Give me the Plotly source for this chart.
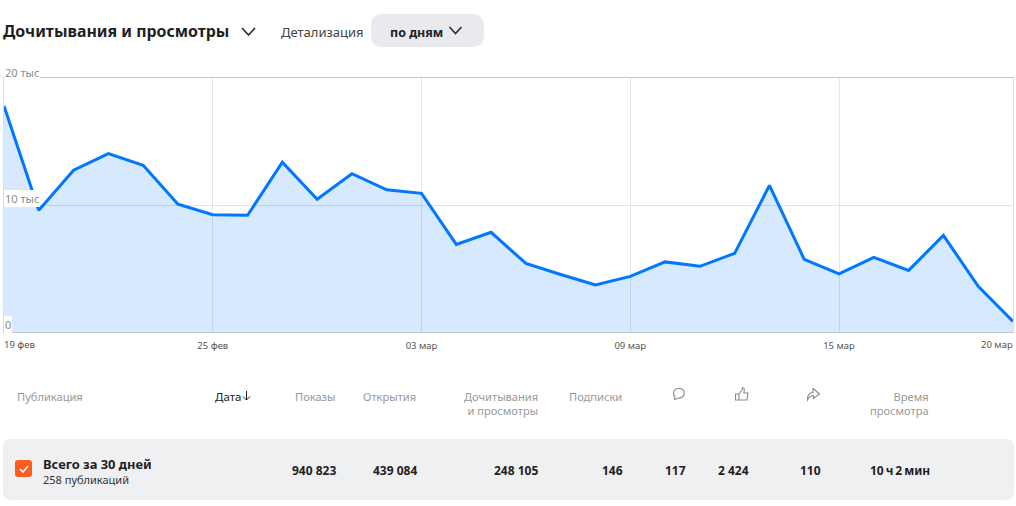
import plotly.graph_objects as go

days = ["19 фев","20 фев","21 фев","22 фев","23 фев","24 фев","25 фев","26 фев","27 фев","28 фев",
        "01 мар","02 мар","03 мар","04 мар","05 мар","06 мар","07 мар","08 мар","09 мар","10 мар",
        "11 мар","12 мар","13 мар","14 мар","15 мар","16 мар","17 мар","18 мар","19 мар","20 мар"]
values = [17800,9580,12740,14040,13130,10060,9230,9190,13370,10450,
          12460,11200,10920,6900,7850,5400,4530,3700,4380,5520,
          5170,6190,11550,5720,4570,5880,4850,7610,3590,830]
mid_ticks = ["25 фев","03 мар","09 мар","15 мар"]
first_tick, last_tick = "19 фев", "20 мар"
y_ticks = [0,10000,20000]
y_labels = ["0","10 тыс","20 тыс"]
title = "Дочитывания и просмотры"
headers = ["Показы","Открытия","Дочитывания<br>и просмотры","Подписки","Время<br>просмотра"]
totals = ["940 823","439 084","248 105","146","117","2 424","110","10\u2009ч\u20092\u2009мин"]

W, H = 1016, 506
L, R, T, B = 4, 1013, 78, 332
FONT = "Noto Sans, Open Sans, sans-serif"
def px(x): return (x-L)/(R-L)
def py(y): return (B-y)/(B-T)

def path(d):
    # d: list of (command, pixel coordinates) -> SVG path in paper fractions
    out = []
    for cmd, *c in d:
        pts = [f"{px(c[i]):.5f},{py(c[i+1]):.5f}" for i in range(0,len(c),2)]
        out.append(cmd+" ".join(pts))
    return " ".join(out)

def rrect(x0,y0,x1,y1,r):
    return path([("M",x0+r,y0),("L",x1-r,y0),("Q",x1,y0,x1,y0+r),("L",x1,y1-r),("Q",x1,y1,x1-r,y1),
                 ("L",x0+r,y1),("Q",x0,y1,x0,y1-r),("L",x0,y0+r),("Q",x0,y0,x0+r,y0),("Z",)])

shapes = []
def fill(p,color):
    shapes.append(dict(type="path",xref="paper",yref="paper",path=p,fillcolor=color,line=dict(width=0),layer="above"))
def stroke(d,color,w=1.1):
    shapes.append(dict(type="path",xref="paper",yref="paper",path=path(d),line=dict(color=color,width=w),layer="above"))

fill(rrect(371,14,484,47,12),"#e9eaee")
fill(rrect(3,439,1014,500,8),"#eff0f2")
fill(rrect(15,460,32,477,3),"#ff5a1f")
stroke([("M",20,469),("L",23,472),("L",28,466)],"#ffffff",1.6)
stroke([("M",242,28),("L",248.5,35),("L",255,28)],"#333333",1.8)
stroke([("M",449.5,27),("L",455.5,33.5),("L",461.5,27)],"#333333",1.8)
# sort arrow
stroke([("M",246.5,391),("L",246.5,400),("M",243,396.5),("L",246.5,400),("L",250,396.5)],"#222222",1)
# comment icon
stroke([("M",673.5,393.5),("C",673.5,390,676,388.5,678.8,388.5),("C",681.8,388.5,684.3,390.2,684.3,393.3),
        ("C",684.3,396.5,681,398.2,678,398.2),("L",674.5,399.5),("L",675,396.8),("C",674,395.8,673.5,394.8,673.5,393.5),("Z",)],"#8a8a8a")
# like icon
stroke([("M",735.5,394),("L",739,394),("L",739,400),("L",735.5,400),("Z",),
        ("M",739,394),("L",742,390),("L",742.5,387.5),("C",744.5,387.5,744.5,390,744,393),("L",748,393),
        ("L",747,400),("L",739,400)],"#8a8a8a")
# share icon
stroke([("M",807.5,400),("C",807,395.5,809.5,392.5,813,392.5),("L",813,388.5),("L",819.5,394),("L",813.5,398.5),
        ("L",813.5,395.5),("C",811,395.5,809,397,807.5,400),("Z",)],"#8a8a8a")

ann = []
def text(x,y,s,size=11.1,color="#999999",anchor="left",bold=False,bg=None,align=None,pad=0):
    ann.append(dict(x=px(x),y=py(y),xref="paper",yref="paper",text=f"<b>{s}</b>" if bold else s,showarrow=False,
                    xanchor=anchor,yanchor="middle",align=align or anchor,borderpad=pad,borderwidth=0,
                    bgcolor=bg,font=dict(family=FONT,size=size,color=color)))

text(3,31,title,15.9,"#1f1f1f",bold=True)
text(281,32,"Детализация",13,"#444444")
text(390,32,"по дням",12.5,"#222222",bold=True)

# y axis labels sit on white chips over the chart
for v,lab,yy in zip(y_ticks,y_labels,[324.5,198.5,72.5]):
    text(3.5,yy,lab,11,"#8a8a8a",bg="#ffffff",pad=1)
text(4,344.5,first_tick,9.5,"#555555")
text(1013,344.5,last_tick,9.5,"#555555",anchor="right")

text(17,396,"Публикация")
text(215,396,"Дата",11.5,"#222222")
text(335,396,headers[0],anchor="right")
text(416,396,headers[1],anchor="right")
text(538,403,headers[2],anchor="right")
text(622,396,headers[3],anchor="right")
text(929,403,headers[4],anchor="right")

text(43,464,"Всего за 30 дней",12.9,"#1f1f1f",bold=True)
text(43,480,"258 публикаций",11,"#333333")
for r,s in zip([336,416.5,538,623,686,749,821,930],totals):
    text(r,470.5,s,12,"#1f1f1f",anchor="right",bold=True)

fig = go.Figure(go.Scatter(x=days,y=values,mode="lines",line=dict(color="#0077ff",width=3),
                           fill="tozeroy",fillcolor="rgba(0,119,255,0.16)",hoverinfo="skip"))
fig.update_layout(
    width=W,height=H,autosize=False,paper_bgcolor="#ffffff",plot_bgcolor="#ffffff",showlegend=False,
    margin=dict(l=L,r=W-R,t=T,b=H-B,pad=0),shapes=shapes,annotations=ann,
    font=dict(family=FONT),
    xaxis=dict(type="category",categoryorder="array",categoryarray=days,range=[0,len(days)-1],
               tickmode="array",tickvals=mid_ticks,ticktext=mid_ticks,showgrid=True,gridcolor="#e3e5ea",gridwidth=1,
               zeroline=False,showline=True,mirror=True,linecolor="#c4c6cc",linewidth=1,ticks="",
               tickfont=dict(family=FONT,size=9.5,color="#555555"),ticklabelstandoff=5),
    yaxis=dict(range=[0,20000],tickmode="array",tickvals=y_ticks,showticklabels=False,showgrid=True,
               gridcolor="#dfe1e5",gridwidth=1,zeroline=False,showline=True,mirror=True,linecolor="#dcdde1",linewidth=1,ticks=""),
)
fig.write_html("out.html",post_script="document.body.style.margin='0';",config=dict(displayModeBar=False))
